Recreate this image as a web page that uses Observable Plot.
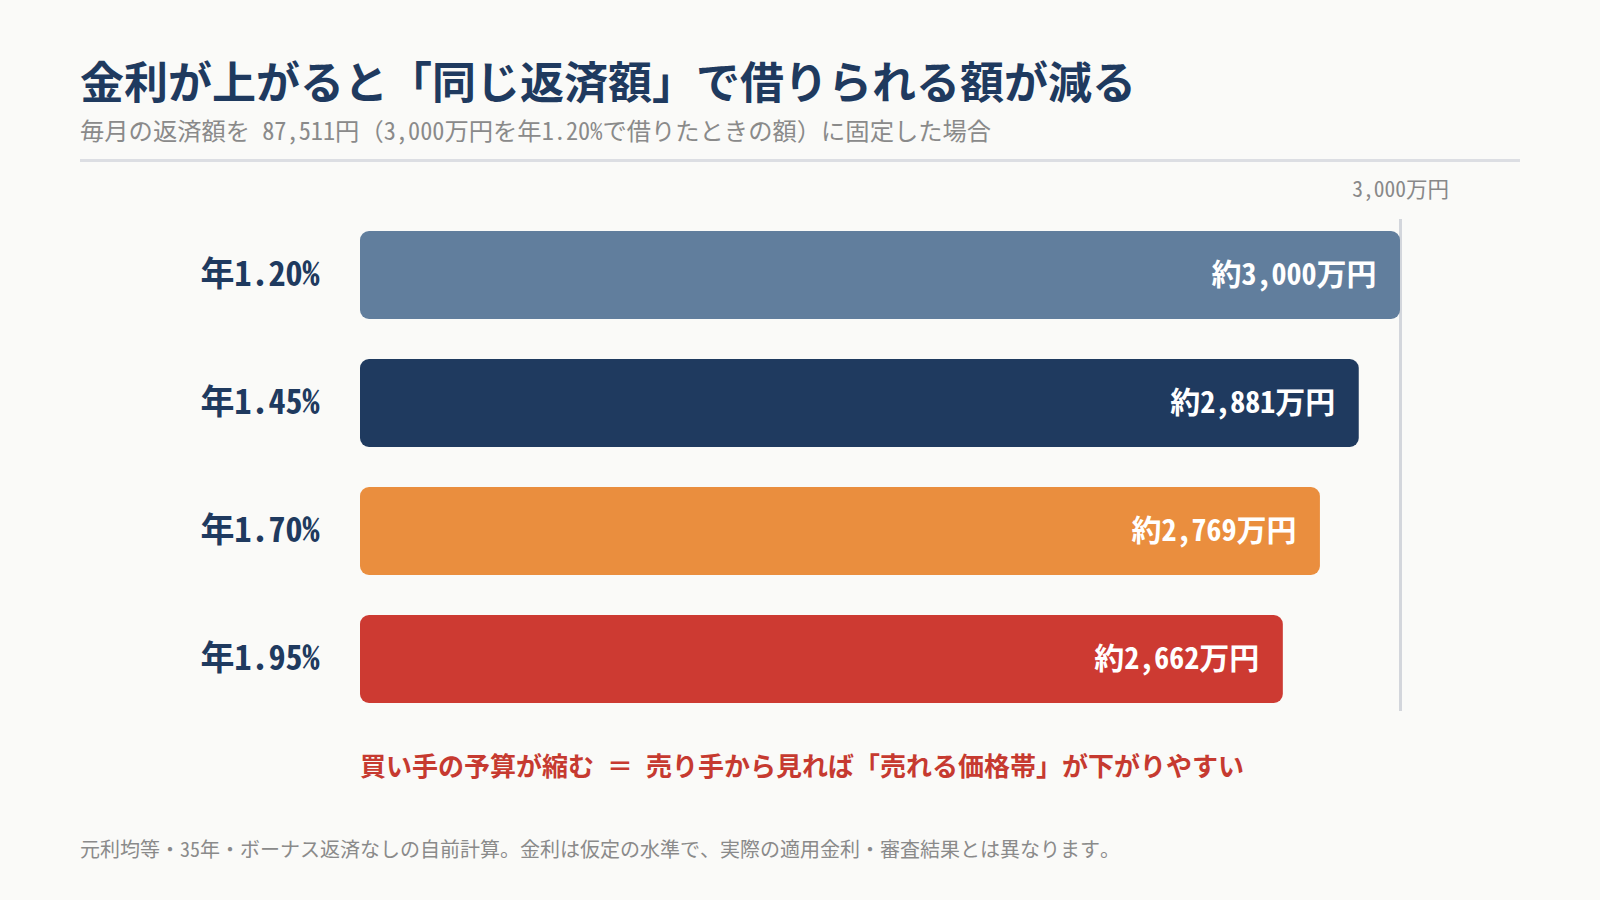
<!DOCTYPE html>
<html lang="ja">
<head>
<meta charset="utf-8">
<script src="https://cdn.jsdelivr.net/npm/d3@7"></script>
<script src="https://cdn.jsdelivr.net/npm/@observablehq/plot@0.6"></script>
<style>
  html, body { margin: 0; padding: 0; background: #fafaf8; }
  body { width: 1600px; height: 900px; position: relative; overflow: hidden;
         font-family: "Noto Sans Mono CJK JP", "Noto Sans CJK JP", sans-serif; }
  #title { position: absolute; left: 80px; top: 50px; font-size: 44px; font-weight: 700; color: #1f3a5f; line-height: 60px; white-space: nowrap; }
  #subtitle { position: absolute; left: 80px; top: 115px; font-size: 24.3px; color: #8a8a8a; line-height: 30px; white-space: nowrap; }
  #rule { position: absolute; left: 80px; top: 159px; width: 1440px; height: 3px; background: #dcdee3; }
  #chart { position: absolute; left: 0; top: 160px; }
  #note { position: absolute; left: 360px; top: 748px; font-size: 26px; font-weight: 700; color: #c63a30; line-height: 34px; white-space: nowrap; }
  #footer { position: absolute; left: 80px; top: 835px; font-size: 20px; color: #8a8a8a; line-height: 28px; white-space: nowrap; }
  #chart svg { font-family: "Noto Sans Mono CJK JP", "Noto Sans CJK JP", sans-serif; background: transparent; }
</style>
</head>
<body>
<div id="title"></div>
<div id="subtitle"></div>
<div id="rule"></div>
<div id="chart"></div>
<div id="note"></div>
<div id="footer"></div>
<script>
const titleText = "金利が上がると「同じ返済額」で借りられる額が減る";
const subtitleText = "毎月の返済額を 87,511円（3,000万円を年1.20%で借りたときの額）に固定した場合";
const noteText = "買い手の予算が縮む ＝ 売り手から見れば「売れる価格帯」が下がりやすい";
const footerText = "元利均等・35年・ボーナス返済なしの自前計算。金利は仮定の水準で、実際の適用金利・審査結果とは異なります。";

const rates = ["年1.20%", "年1.45%", "年1.70%", "年1.95%"];
const amounts = [3000, 2881, 2769, 2662];
const colors = ["#617e9d", "#1f3a5f", "#ea8e3e", "#cd3a32"];
const axisTicks = [3000];
const unit = "万円";

document.getElementById("title").textContent = titleText;
document.getElementById("subtitle").textContent = subtitleText;
document.getElementById("note").textContent = noteText;
document.getElementById("footer").textContent = footerText;

const data = rates.map((r, i) => ({rate: r, value: amounts[i], color: colors[i]}));
const fmt = d3.format(",");

const chart = Plot.plot({
  width: 1600,
  height: 600,
  marginLeft: 360,
  marginRight: 200,
  marginTop: 59,
  marginBottom: 49,
  style: {background: "transparent", overflow: "visible"},
  x: {domain: [0, 3000]},
  y: {domain: rates, range: [30.5, 582.5], padding: 0.3125},
  marks: [
    Plot.ruleX(axisTicks, {x: d => d, stroke: "#d3d6dc", strokeWidth: 3}),
    Plot.barX(data, {x: "value", y: "rate", fill: "color", rx: 9}),
    Plot.text(data, {x: "value", y: "rate", text: d => "約" + fmt(d.value) + unit,
      textAnchor: "end", dx: -24, fill: "white", fontSize: 30, fontWeight: "bold"}),
    Plot.axisX({anchor: "top", ticks: axisTicks, tickFormat: d => fmt(d) + unit,
      tickSize: 0, tickPadding: 23, fontSize: 21.5, color: "#888", label: null}),
    Plot.axisY({ticks: rates, tickSize: 0, tickPadding: 41, fontSize: 34,
      fontWeight: "bold", color: "#1f3a5f", label: null})
  ]
});
document.getElementById("chart").appendChild(chart);
</script>
</body>
</html>
